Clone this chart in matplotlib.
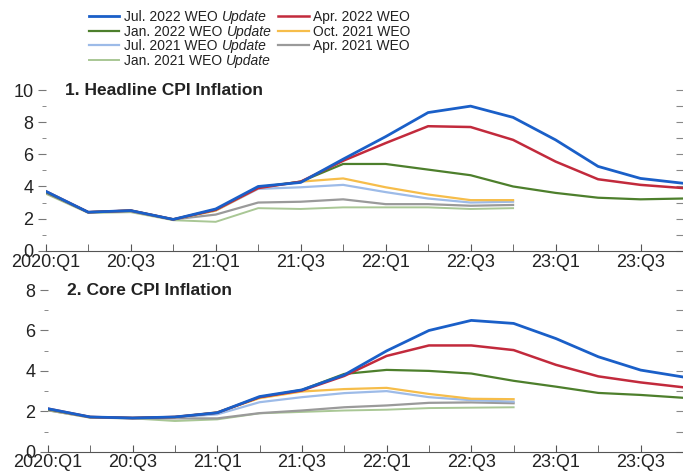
import matplotlib
matplotlib.use("Agg")
import matplotlib.pyplot as plt
from matplotlib.ticker import MultipleLocator
import numpy as np

plt.rcParams['font.family'] = ['Liberation Sans', 'DejaVu Sans']

quarters = ["2020:Q1", "20:Q2", "20:Q3", "20:Q4", "21:Q1", "21:Q2", "21:Q3", "21:Q4",
            "22:Q1", "22:Q2", "22:Q3", "22:Q4", "23:Q1", "23:Q2", "23:Q3", "23:Q4"]
tick_labels = ["2020:Q1", "20:Q3", "21:Q1", "21:Q3", "22:Q1", "22:Q3", "23:Q1", "23:Q3"]

# headline CPI inflation (percent)
head_jul22 = [3.7, 2.4, 2.5, 1.95, 2.6, 4.0, 4.25, 5.7, 7.1, 8.6, 9.0, 8.3, 6.9, 5.25, 4.5, 4.2]
head_apr22 = [3.7, 2.4, 2.5, 1.95, 2.55, 3.9, 4.3, 5.6, 6.7, 7.75, 7.7, 6.9, 5.55, 4.45, 4.1, 3.9]
head_jan22 = [3.65, 2.4, 2.5, 1.95, 2.55, 3.95, 4.3, 5.4, 5.4, 5.05, 4.7, 4.0, 3.6, 3.3, 3.2, 3.25]
head_oct21 = [3.65, 2.4, 2.5, 1.95, 2.5, 3.9, 4.3, 4.5, 3.95, 3.5, 3.15, 3.15]
head_jul21 = [3.65, 2.4, 2.5, 1.95, 2.5, 3.85, 3.95, 4.1, 3.65, 3.25, 3.0, 3.05]
head_apr21 = [3.6, 2.4, 2.45, 1.95, 2.25, 3.0, 3.05, 3.2, 2.9, 2.9, 2.8, 2.85]
head_jan21 = [3.55, 2.35, 2.4, 1.9, 1.8, 2.65, 2.6, 2.7, 2.7, 2.7, 2.6, 2.65]

# core CPI inflation (percent)
core_jul22 = [2.13, 1.72, 1.67, 1.72, 1.93, 2.73, 3.06, 3.8, 4.99, 6.0, 6.5, 6.35, 5.6, 4.7, 4.04, 3.7]
core_apr22 = [2.13, 1.72, 1.67, 1.72, 1.93, 2.7, 3.03, 3.75, 4.74, 5.26, 5.26, 5.03, 4.3, 3.73, 3.43, 3.19]
core_jan22 = [2.1, 1.72, 1.67, 1.72, 1.93, 2.7, 3.06, 3.85, 4.05, 4.0, 3.87, 3.51, 3.22, 2.91, 2.81, 2.67]
core_oct21 = [2.1, 1.7, 1.67, 1.7, 1.95, 2.65, 2.98, 3.1, 3.16, 2.86, 2.62, 2.6]
core_jul21 = [2.1, 1.7, 1.67, 1.7, 1.85, 2.45, 2.7, 2.9, 3.0, 2.7, 2.55, 2.48]
core_apr21 = [2.05, 1.7, 1.65, 1.65, 1.65, 1.91, 2.04, 2.2, 2.29, 2.42, 2.44, 2.4]
core_jan21 = [2.05, 1.68, 1.65, 1.52, 1.6, 1.9, 1.97, 2.04, 2.08, 2.16, 2.18, 2.2]

# vintages; the "Update" ones get an italic suffix in the legend
labels = ["Jul. 2022 WEO", "Jan. 2022 WEO", "Jul. 2021 WEO", "Jan. 2021 WEO",
          "Apr. 2022 WEO", "Oct. 2021 WEO", "Apr. 2021 WEO"]
is_update = [True, True, True, True, False, False, False]
colors = ["#1a5fc8", "#4d7f2c", "#9dbbe8", "#a9c795", "#c22a3c", "#f6bd4a", "#9a9a9a"]
widths = [2.0, 1.6, 1.6, 1.4, 1.8, 1.6, 1.6]

head = [head_jul22, head_jan22, head_jul21, head_jan21, head_apr22, head_oct21, head_apr21]
core = [core_jul22, core_jan22, core_jul21, core_jan21, core_apr22, core_oct21, core_apr21]
# drawing order: older vintages first, newest on top
order = [3, 6, 2, 5, 1, 4, 0]

fig = plt.figure(figsize=(6.83, 4.74), dpi=100)
ax1 = fig.add_axes([0.067, 0.471, 0.933, 0.339])
ax2 = fig.add_axes([0.070, 0.047, 0.930, 0.341])


def style_axis(ax, ymax, title):
    ax.set_xlim(0, 15)
    ax.set_ylim(0, ymax)
    for s in ["top", "right", "left"]:
        ax.spines[s].set_visible(False)
    ax.spines["bottom"].set_color("#555555")
    ax.set_xticks(np.arange(0, 16, 2))
    ax.set_xticklabels(tick_labels)
    ax.xaxis.set_minor_locator(MultipleLocator(1))
    ax.yaxis.set_major_locator(MultipleLocator(2))
    ax.yaxis.set_minor_locator(MultipleLocator(1))
    ax.tick_params(axis="x", which="both", direction="in", length=5, color="#555555",
                   labelsize=13, pad=2, labelcolor="#222222")
    ax.tick_params(axis="y", which="major", direction="out", length=6, color="#777777",
                   labelsize=13, pad=3, labelcolor="#222222")
    ax.tick_params(axis="y", which="minor", direction="out", length=3, color="#777777")
    sec = ax.secondary_yaxis("right")
    sec.spines["right"].set_visible(False)
    sec.yaxis.set_major_locator(MultipleLocator(1))
    sec.tick_params(direction="in", length=5, color="#888888", labelright=False, pad=0)
    ax.text(0.03, ymax, title, fontsize=12.5, fontweight="bold", va="center",
            ha="left", color="#222222", transform=ax.get_yaxis_transform())


lines = {}
for i in order:
    lines[i], = ax1.plot(np.arange(len(head[i])), head[i], color=colors[i], lw=widths[i],
                         solid_joinstyle="round")
    ax2.plot(np.arange(len(core[i])), core[i], color=colors[i], lw=widths[i],
             solid_joinstyle="round")

style_axis(ax1, 10, "1. Headline CPI Inflation")
style_axis(ax2, 8, "2. Core CPI Inflation")

# legend as two single-column blocks
leg_kw = dict(loc="upper left", frameon=False, fontsize=10, borderpad=0, borderaxespad=0,
              handlelength=2.2, handletextpad=0.35, labelspacing=0.05, labelcolor="#222222")
col1 = [i for i in range(7) if is_update[i]]
col2 = [i for i in range(7) if not is_update[i]]
leg1 = fig.legend([lines[i] for i in col1], [labels[i] for i in col1],
                  bbox_to_anchor=(0.130, 0.979), **leg_kw)
leg2 = fig.legend([lines[i] for i in col2], [labels[i] for i in col2],
                  bbox_to_anchor=(0.407, 0.979), **leg_kw)

fig.canvas.draw()
inv = fig.transFigure.inverted()
for t in leg1.get_texts():
    bb = t.get_window_extent()
    x, y = inv.transform((bb.x1 + 3.9, bb.y0))
    fig.text(x, y, "Update", fontsize=10, style="italic", color="#222222",
             ha="left", va="bottom")

fig.savefig("out.png", dpi=100)
